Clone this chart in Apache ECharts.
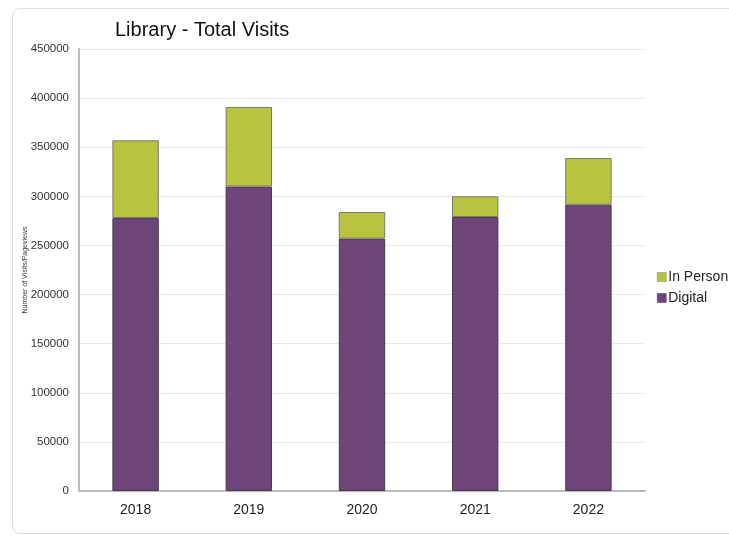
<!DOCTYPE html>
<html><head><meta charset="utf-8">
<script src="https://cdn.jsdelivr.net/npm/echarts@6/dist/echarts.min.js"></script>
<style>
html,body{margin:0;padding:0;background:#fff;}
#card{position:absolute;left:12px;top:8px;width:740px;height:526px;border:1px solid #ddd;border-radius:8px;box-sizing:border-box;}
#c{position:absolute;left:0;top:0;width:729px;height:540px;}
</style></head>
<body>
<div id="card"></div>
<div id="c"></div>
<script>
const categories = ['2018','2019','2020','2021','2022'];
const digital = [278000, 310000, 257000, 279000, 291500];
const inPerson = [79000, 81000, 27000, 21000, 47500];
const yTicks = [0, 50000, 100000, 150000, 200000, 250000, 300000, 350000, 400000, 450000];

const chart = echarts.init(document.getElementById('c'));
chart.setOption({
  animation: false,
  title: {
    text: 'Library - Total Visits',
    left: 110, top: 15,
    textStyle: {fontFamily: 'Liberation Sans', fontSize: 20, fontWeight: 'normal', color: '#111'}
  },
  legend: {
    orient: 'vertical', left: 652, top: 265,
    itemWidth: 9, itemHeight: 9, itemGap: 7,
    icon: 'rect',
    itemStyle: {borderWidth: 0.5},
    textStyle: {fontFamily: 'Liberation Sans', fontSize: 14, color: '#222', padding: [0,0,0,-3]},
    data: ['In Person', 'Digital']
  },
  grid: {left: 79, right: 84, top: 49, bottom: 49, containLabel: false},
  xAxis: {
    type: 'category', data: categories,
    axisLine: {lineStyle: {color: '#bbb', width: 2}},
    axisTick: {show: false},
    axisLabel: {fontFamily: 'Liberation Sans', fontSize: 14, color: '#222', margin: 12}
  },
  yAxis: {
    type: 'value', min: 0, max: 450000, interval: 50000,
    name: 'Number of Visits/Pageviews', nameLocation: 'middle', nameGap: 50, nameRotate: 90,
    nameMoveOverlap: false,
    nameTextStyle: {fontFamily: 'Liberation Sans', fontSize: 7, color: '#333'},
    axisLine: {show: true, lineStyle: {color: '#bbb', width: 2}},
    axisTick: {show: false},
    axisLabel: {fontFamily: 'Liberation Sans', fontSize: 11.5, color: '#333', margin: 10,
      formatter: v => yTicks.includes(v) ? String(v) : ''},
    splitLine: {lineStyle: {color: '#e8e8e8'}}
  },
  series: [
    {name: 'Digital', type: 'bar', stack: 'total', data: digital, barWidth: '41%',
     itemStyle: {color: '#6E4579', borderColor: '#4a3a4f', borderWidth: 1}},
    {name: 'In Person', type: 'bar', stack: 'total', data: inPerson, barWidth: '41%',
     itemStyle: {color: '#B8C440', borderColor: '#7a7a6a', borderWidth: 1}}
  ]
});
</script>
</body></html>
